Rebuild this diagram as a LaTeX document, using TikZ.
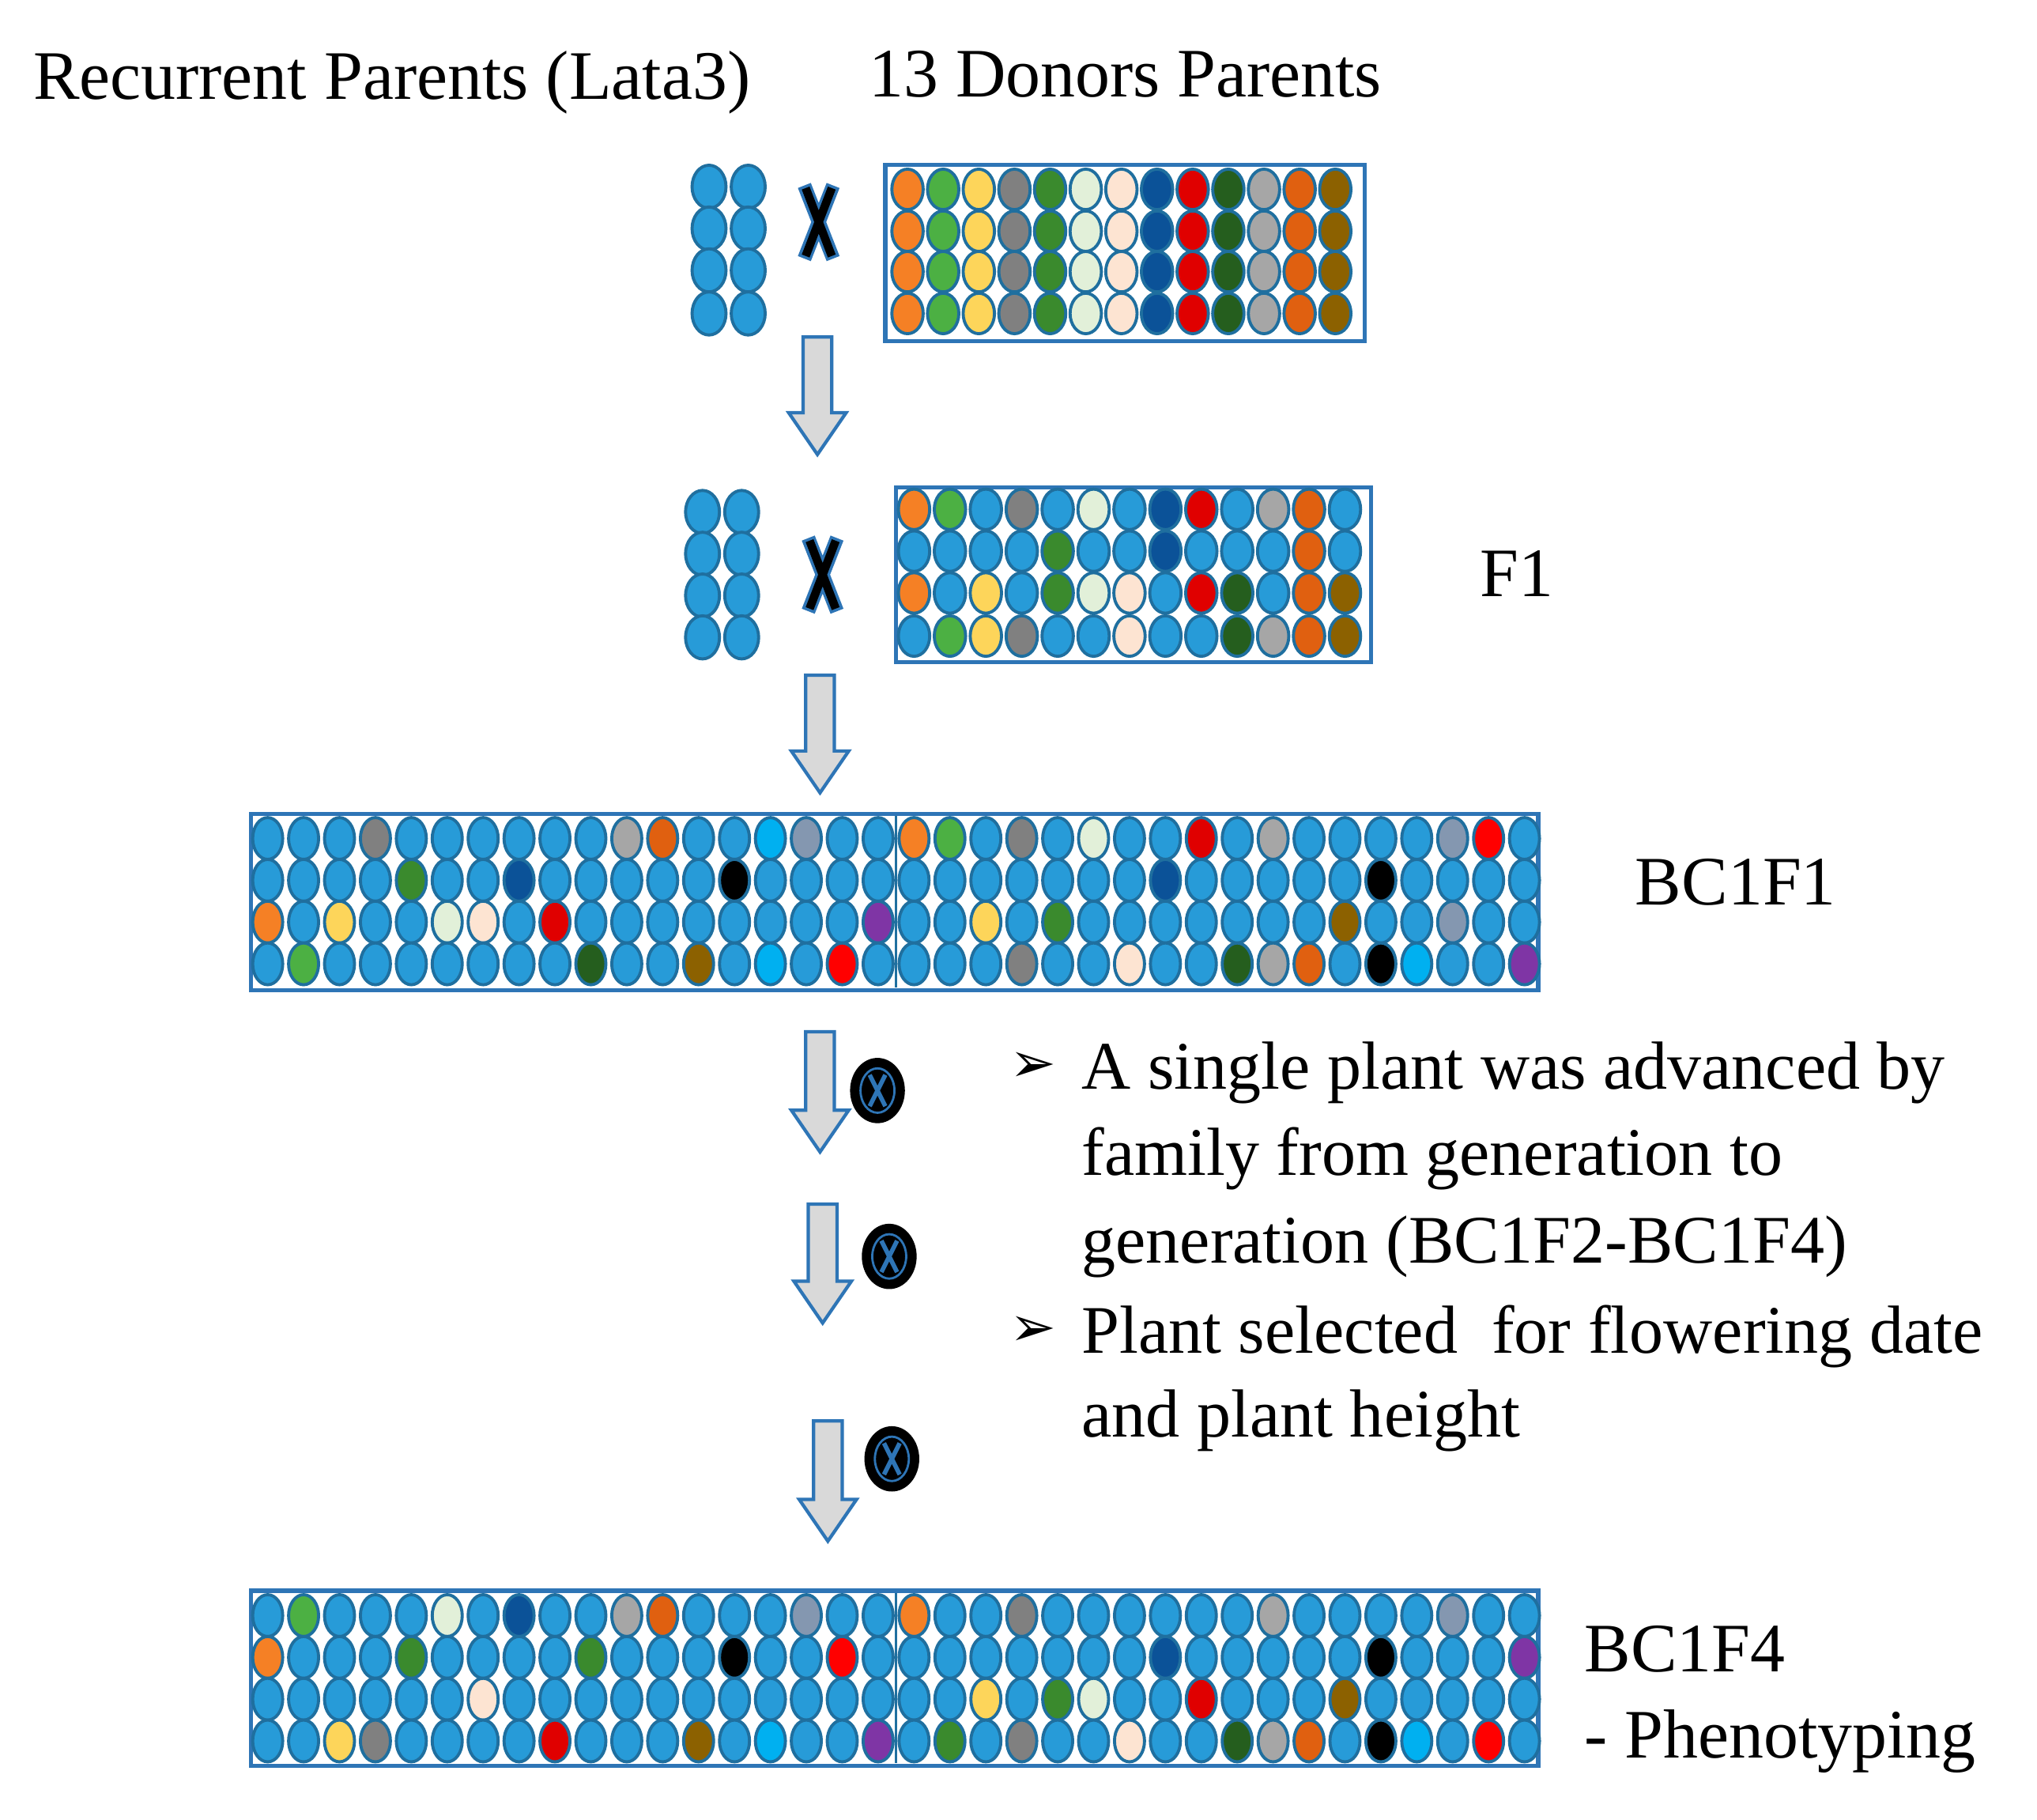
\documentclass[tikz,border=0pt]{standalone}
\usepackage{fontspec}
\setmainfont{Liberation Serif}
\newfontfamily\dvfont{DejaVu Sans}
\definecolor{col-b}{HTML}{279BD8}
\definecolor{col-o}{HTML}{F58025}
\definecolor{col-g}{HTML}{4CB043}
\definecolor{col-y}{HTML}{FDD55A}
\definecolor{col-G}{HTML}{808080}
\definecolor{col-d}{HTML}{3A8A2D}
\definecolor{col-l}{HTML}{E2F0D9}
\definecolor{col-p}{HTML}{FDE4D2}
\definecolor{col-n}{HTML}{0B5298}
\definecolor{col-r}{HTML}{E00000}
\definecolor{col-D}{HTML}{255E1E}
\definecolor{col-s}{HTML}{A6A6A6}
\definecolor{col-O}{HTML}{E06010}
\definecolor{col-k}{HTML}{8C6100}
\definecolor{col-K}{HTML}{000000}
\definecolor{col-c}{HTML}{00B0F0}
\definecolor{col-S}{HTML}{8497B0}
\definecolor{col-v}{HTML}{7F35A5}
\definecolor{col-R}{HTML}{FF0000}
\definecolor{edge}{HTML}{1F6F9F}
\definecolor{boxblue}{HTML}{2E75B6}
\definecolor{arrowfill}{HTML}{D9D9D9}
\def\u{0.01652cm}
\tikzset{
  chr/.style={draw=edge, line width=1.1pt},
  gbox/.style={draw=boxblue, line width=1.5pt},
  barrow/.style={draw=boxblue, fill=arrowfill, line width=1.2pt, line join=miter},
  lbl/.style={anchor=base west, inner sep=0pt, font=\fontsize{25}{30}\selectfont},
  bul/.style={anchor=base west, inner sep=0pt, font=\fontsize{24.5}{30}\selectfont},
}
\newcommand{\chrow}[6]{%
  \foreach \cc [count=\ii from 0] in {#6} {
    \draw[chr, fill=col-\cc] ({#1+\ii*#2},#3) ellipse [x radius={#4*\u}, y radius={#5*\u}];
  }}
\newcommand{\blockarrow}[3]{%
  \draw[barrow] (#1-11,#2)--(#1+11,#2)--(#1+11,#3-32)--(#1+22,#3-32)--(#1,#3)--(#1-22,#3-32)--(#1-11,#3-32)--cycle;}
\newcommand{\crossX}[2]{%
  \draw[boxblue, line width=5pt] (#1-11,#2-28)--(#1+11,#2+28) (#1+11,#2-28)--(#1-11,#2+28);
  \draw[black, line width=3pt] (#1-10,#2-26)--(#1+10,#2+26) (#1+10,#2-26)--(#1-10,#2+26);}
\newcommand{\selfX}[2]{%
  \fill[black] (#1,#2) ellipse [x radius={21*\u}, y radius={25*\u}];
  \draw[boxblue, line width=0.8pt] (#1,#2) ellipse [x radius={13*\u}, y radius={17*\u}];
  \draw[boxblue, line width=1.6pt] (#1-6,#2-12)--(#1+6,#2+12) (#1+6,#2-12)--(#1-6,#2+12);}
\begin{document}
\begin{tikzpicture}[x=0.01652cm, y=-0.01652cm]
\useasboundingbox (0,0) rectangle (1560,1393);
% titles
\node[lbl] (rec) at (25,76) {Recurrent Parents (Lata3)};
\node[lbl] (don) at (665,74) {13 Donors Parents};
% row 1
\foreach \yy in {143,175,207,240} {\chrow{543}{30}{\yy}{13}{16.5}{b,b}}
\crossX{627}{170}
\draw[gbox] (678,126) rectangle (1045,261);
\foreach \yy in {145,177,208,240} {\chrow{695}{27.3}{\yy}{12}{15.5}{o,g,y,G,d,l,p,n,r,D,s,O,k}}
\blockarrow{626}{258}{348}
% row 2 F1
\foreach \yy in {392,424,456,488} {\chrow{538}{30}{\yy}{13}{16.5}{b,b}}
\crossX{630}{440}
\draw[gbox] (686,373) rectangle (1050,507);
\chrow{700}{27.5}{390}{12}{15.5}{o,g,b,G,b,l,b,n,r,b,s,O,b}
\chrow{700}{27.5}{422}{12}{15.5}{b,b,b,b,d,b,b,n,b,b,b,O,b}
\chrow{700}{27.5}{454}{12}{15.5}{o,b,y,b,d,l,p,b,r,D,b,O,k}
\chrow{700}{27.5}{487}{12}{15.5}{b,g,y,G,b,b,p,b,b,D,s,O,k}
\node[lbl] (f1) at (1133,457) {F1};
\blockarrow{628}{517}{607}
% BC1F1
\draw[gbox] (192,623) rectangle (1178,758);
\chrow{205}{27.5}{642}{11.5}{16}{b,b,b,G,b,b,b,b,b,b,s,O,b,b,c,S,b,b,o,g,b,G,b,l,b,b,r,b,s,b,b,b,b,S,R,b}
\chrow{205}{27.5}{674}{11.5}{16}{b,b,b,b,d,b,b,n,b,b,b,b,b,K,b,b,b,b,b,b,b,b,b,b,b,n,b,b,b,b,b,K,b,b,b,b}
\chrow{205}{27.5}{706}{11.5}{16}{o,b,y,b,b,l,p,b,r,b,b,b,b,b,b,b,b,v,b,b,y,b,d,b,b,b,b,b,b,b,k,b,b,S,b,b}
\chrow{205}{27.5}{738}{11.5}{16}{b,g,b,b,b,b,b,b,b,D,b,b,k,b,c,b,R,b,b,b,b,G,b,b,p,b,b,D,s,O,b,K,c,b,b,v}
\draw[edge, line width=0.8pt] (686,625)--(686,756);
\node[lbl] (bc1f1) at (1252,693) {BC1F1};
% selfing arrows
\blockarrow{628}{790}{882}
\selfX{672}{835}
\blockarrow{630}{922}{1013}
\selfX{681}{962}
\blockarrow{634}{1088}{1180}
\selfX{683}{1117}
% bullets
\node[anchor=center, inner sep=0pt, font=\dvfont\fontsize{20}{20}\selectfont] (b1) at (791,817) {➢};
\node[anchor=center, inner sep=0pt, font=\dvfont\fontsize{20}{20}\selectfont] (b2) at (791,1019) {➢};
\node[bul] (t1a) at (828,834) {A single plant was advanced by};
\node[bul] (t1b) at (828,900) {family from generation to};
\node[bul] (t1c) at (828,967) {generation (BC1F2-BC1F4)};
\node[bul] (t2a) at (828,1036) {Plant selected\ \ for flowering date};
\node[bul] (t2b) at (828,1100) {and plant height};
% BC1F4
\draw[gbox] (192,1218) rectangle (1178,1352);
\chrow{205}{27.5}{1237}{11.5}{16}{b,g,b,b,b,l,b,n,b,b,s,O,b,b,b,S,b,b,o,b,b,G,b,b,b,b,b,b,s,b,b,b,b,S,b,b}
\chrow{205}{27.5}{1269}{11.5}{16}{o,b,b,b,d,b,b,b,b,d,b,b,b,K,b,b,R,b,b,b,b,b,b,b,b,n,b,b,b,b,b,K,b,b,b,v}
\chrow{205}{27.5}{1301}{11.5}{16}{b,b,b,b,b,b,p,b,b,b,b,b,b,b,b,b,b,b,b,b,y,b,d,l,b,b,r,b,b,b,k,b,b,b,b,b}
\chrow{205}{27.5}{1333}{11.5}{16}{b,b,y,G,b,b,b,b,r,b,b,b,k,b,c,b,b,v,b,d,b,G,b,b,p,b,b,D,s,O,b,K,c,b,R,b}
\draw[edge, line width=0.8pt] (686,1220)--(686,1350);
\node[lbl] (bc1f4) at (1213,1280) {BC1F4};
\node[lbl] (phen) at (1213,1346) {- Phenotyping};
\end{tikzpicture}
\end{document}
